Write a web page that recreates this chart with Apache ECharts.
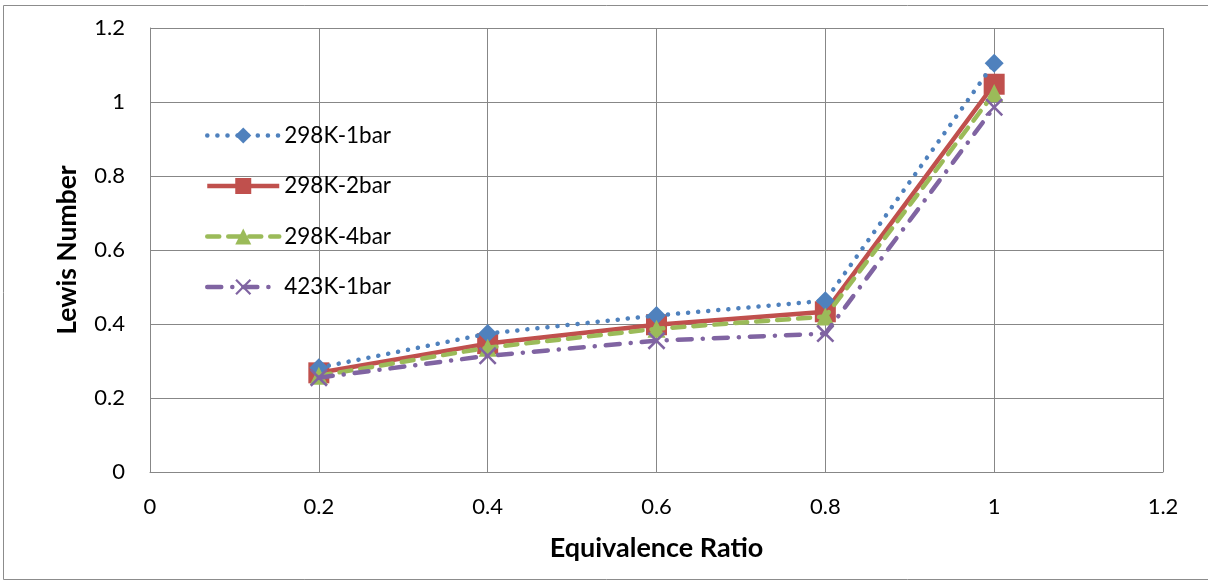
<!DOCTYPE html>
<html>
<head>
<meta charset="utf-8">
<script src="https://cdn.jsdelivr.net/npm/echarts@6/dist/echarts.min.js"></script>
<style>html,body{margin:0;padding:0;background:#fff}#c{width:1208px;height:581px}</style>
</head>
<body>
<div id="c"></div>
<script>
const xValues = [0.2, 0.4, 0.6, 0.8, 1.0];
const s298_1bar = [0.282, 0.374, 0.423, 0.463, 1.105];
const s298_2bar = [0.268, 0.347, 0.398, 0.433, 1.048];
const s298_4bar = [0.260, 0.336, 0.387, 0.420, 1.024];
const s423_1bar = [0.255, 0.314, 0.355, 0.374, 0.986];
const seriesNames = ['298K-1bar', '298K-2bar', '298K-4bar', '423K-1bar'];

const pair = arr => xValues.map((x, i) => [x, arr[i]]);
const xPath = 'path://M0,1 L1,0 L5,4 L9,0 L10,1 L6,5 L10,9 L9,10 L5,6 L1,10 L0,9 L4,5 Z';
const font = 'Lato, "Open Sans", sans-serif';

const chart = echarts.init(document.getElementById('c'), null, {renderer: 'canvas'});
chart.setOption({
  animation: false,
  backgroundColor: '#fff',
  graphic: [{
    type: 'rect', shape: {x: 3.5, y: 5.5, width: 1210, height: 574},
    style: {fill: 'none', stroke: '#8c8c8c', lineWidth: 1}, silent: true
  }],
  grid: {left: 150, right: 45, top: 28, bottom: 109, containLabel: false},
  legend: {
    orient: 'vertical', left: 200, top: 119,
    itemWidth: 72, itemHeight: 20, itemGap: 27.5,
    lineStyle: {width: 4.5},
    textStyle: {fontFamily: font, fontSize: 22.5, lineHeight: 20, color: '#000', padding: [0, 0, 0, 0]},
    data: seriesNames
  },
  xAxis: {
    type: 'value', min: 0, max: 1.2, interval: 0.2,
    name: 'Equivalence Ratio', nameLocation: 'middle', nameGap: 63,
    nameTextStyle: {fontFamily: font, fontSize: 27, fontWeight: 'bold', color: '#000'},
    axisLine: {show: true, lineStyle: {color: '#878787', width: 1}},
    axisTick: {show: false},
    axisLabel: {fontFamily: font, fontSize: 22, color: '#000', margin: 24,
      formatter: v => String(+v.toFixed(1))},
    splitLine: {show: true, lineStyle: {color: '#878787', width: 1}}
  },
  yAxis: {
    type: 'value', min: 0, max: 1.2, interval: 0.2,
    name: 'Lewis Number', nameLocation: 'middle', nameGap: 69,
    nameTextStyle: {fontFamily: font, fontSize: 26.5, fontWeight: 'bold', color: '#000'},
    axisLine: {show: true, lineStyle: {color: '#878787', width: 1}},
    axisTick: {show: false},
    axisLabel: {fontFamily: font, fontSize: 22, color: '#000', margin: 25,
      formatter: v => String(+v.toFixed(1))},
    splitLine: {show: true, lineStyle: {color: '#878787', width: 1}}
  },
  series: [
    {
      name: seriesNames[0], type: 'line', data: pair(s298_1bar), z: 5,
      symbol: 'diamond', symbolSize: 19,
      itemStyle: {color: '#4F81BD'},
      lineStyle: {color: '#4F81BD', width: 4.5, type: [0.1, 10], cap: 'round'}
    },
    {
      name: seriesNames[1], type: 'line', data: pair(s298_2bar), z: 4,
      symbol: 'rect', symbolSize: 21,
      itemStyle: {color: '#C0504D'},
      lineStyle: {color: '#C0504D', width: 4.5, type: 'solid'}
    },
    {
      name: seriesNames[2], type: 'line', data: pair(s298_4bar), z: 6,
      symbol: 'triangle', symbolSize: 18,
      itemStyle: {color: '#9BBB59'},
      lineStyle: {color: '#9BBB59', width: 4.5, type: [12, 9], cap: 'round'}
    },
    {
      name: seriesNames[3], type: 'line', data: pair(s423_1bar), z: 7,
      symbol: xPath, symbolSize: 18,
      itemStyle: {color: '#8064A2'},
      lineStyle: {color: '#8064A2', width: 4.5, type: [14, 11, 0.1, 11], cap: 'round'}
    }
  ]
});
</script>
</body>
</html>
